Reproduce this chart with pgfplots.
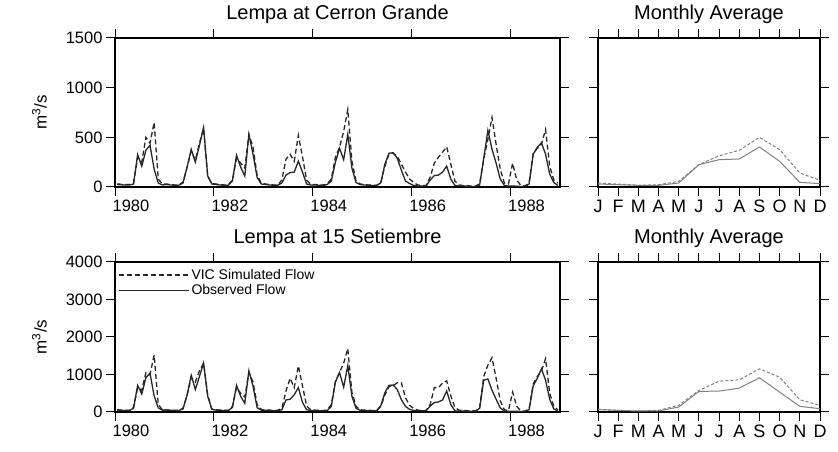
\documentclass[border=0pt]{standalone}
\usepackage{fontspec}
\setmainfont{Liberation Sans}
\usepackage{pgfplots}
\usepackage{pgfplotstable}
\pgfplotsset{compat=1.18}

% Monthly flows (m^3/s), 1980-1988: observed and VIC simulated
\pgfplotstableread{
yr mo obs vic
1980 1 25 30
1980 2 22 28
1980 3 20 25
1980 4 20 25
1980 5 30 40
1980 6 325 300
1980 7 210 250
1980 8 370 500
1980 9 420 440
1980 10 180 650
1980 11 40 80
1980 12 20 30
1981 1 25 30
1981 2 20 25
1981 3 18 20
1981 4 18 20
1981 5 40 50
1981 6 200 200
1981 7 380 360
1981 8 250 270
1981 9 420 440
1981 10 600 590
1981 11 110 110
1981 12 30 35
1982 1 25 30
1982 2 20 25
1982 3 18 20
1982 4 18 22
1982 5 60 70
1982 6 320 290
1982 7 200 240
1982 8 110 190
1982 9 530 530
1982 10 330 400
1982 11 95 120
1982 12 30 40
1983 1 25 30
1983 2 20 25
1983 3 18 20
1983 4 18 20
1983 5 40 70
1983 6 120 280
1983 7 145 330
1983 8 150 260
1983 9 260 520
1983 10 150 305
1983 11 30 70
1983 12 20 25
1984 1 20 25
1984 2 18 22
1984 3 15 20
1984 4 25 30
1984 5 60 80
1984 6 250 300
1984 7 390 400
1984 8 275 560
1984 9 530 780
1984 10 190 260
1984 11 45 60
1984 12 25 30
1985 1 20 25
1985 2 18 20
1985 3 15 18
1985 4 15 18
1985 5 40 40
1985 6 230 210
1985 7 340 330
1985 8 345 340
1985 9 290 310
1985 10 170 230
1985 11 60 150
1985 12 35 80
1986 1 15 45
1986 2 10 20
1986 3 10 15
1986 4 10 15
1986 5 70 100
1986 6 115 240
1986 7 120 300
1986 8 150 350
1986 9 210 405
1986 10 80 230
1986 11 15 60
1986 12 10 20
1987 1 10 15
1987 2 8 12
1987 3 5 10
1987 4 5 10
1987 5 20 30
1987 6 290 280
1987 7 570 480
1987 8 380 700
1987 9 240 430
1987 10 80 180
1987 11 15 40
1987 12 10 30
1988 1 10 240
1988 2 8 70
1988 3 5 15
1988 4 5 10
1988 5 30 40
1988 6 330 340
1988 7 400 390
1988 8 445 430
1988 9 330 580
1988 10 130 210
1988 11 45 70
1988 12 15 40
}\cerron

\pgfplotstableread{
yr mo obs vic
1980 1 50 60
1980 2 45 50
1980 3 40 45
1980 4 40 45
1980 5 100 120
1980 6 710 650
1980 7 480 580
1980 8 920 1050
1980 9 1030 1000
1980 10 430 1520
1980 11 110 200
1980 12 50 60
1981 1 50 55
1981 2 45 50
1981 3 40 45
1981 4 40 45
1981 5 80 100
1981 6 450 450
1981 7 980 920
1981 8 600 800
1981 9 950 1100
1981 10 1310 1300
1981 11 420 450
1981 12 70 80
1982 1 50 60
1982 2 45 50
1982 3 40 45
1982 4 40 45
1982 5 120 150
1982 6 710 650
1982 7 420 500
1982 8 230 400
1982 9 1100 1050
1982 10 690 800
1982 11 115 200
1982 12 50 70
1983 1 45 55
1983 2 40 50
1983 3 35 45
1983 4 35 45
1983 5 60 100
1983 6 320 560
1983 7 340 900
1983 8 460 650
1983 9 650 1230
1983 10 260 700
1983 11 60 160
1983 12 40 60
1984 1 40 50
1984 2 35 45
1984 3 30 40
1984 4 40 50
1984 5 150 200
1984 6 800 820
1984 7 1050 1060
1984 8 660 1300
1984 9 1240 1690
1984 10 420 520
1984 11 100 150
1984 12 45 60
1985 1 40 50
1985 2 35 45
1985 3 30 40
1985 4 30 40
1985 5 160 150
1985 6 515 450
1985 7 710 680
1985 8 720 700
1985 9 600 780
1985 10 330 780
1985 11 150 380
1985 12 70 180
1986 1 40 90
1986 2 35 50
1986 3 30 40
1986 4 30 40
1986 5 160 200
1986 6 250 650
1986 7 270 650
1986 8 320 770
1986 9 560 830
1986 10 200 430
1986 11 30 120
1986 12 25 50
1987 1 25 40
1987 2 20 35
1987 3 20 30
1987 4 20 30
1987 5 100 120
1987 6 850 950
1987 7 880 1250
1987 8 580 1450
1987 9 340 900
1987 10 110 300
1987 11 25 60
1987 12 20 40
1988 1 20 530
1988 2 18 150
1988 3 15 30
1988 4 15 25
1988 5 60 80
1988 6 700 750
1988 7 900 950
1988 8 1150 1100
1988 9 850 1420
1988 10 340 500
1988 11 80 150
1988 12 30 60
}\setiembre

\pgfplotsset{
  ncl/.style={
    scale only axis,
    enlargelimits=false,
    ymin=0,
    axis line style={line width=1.6pt},
    tick align=outside,
    major tick length=9pt,
    minor tick length=5pt,
    every tick/.style={black, line width=1pt},
    tick label style={font=\fontsize{16.5}{18}\selectfont},
    /pgf/number format/assume math mode=true,
    title style={font=\fontsize{20}{22}\selectfont, anchor=base, yshift=12pt},
    % the label is turned upright, so its own y direction points left
    ylabel style={font=\fontsize{17}{19}\selectfont, yshift=12pt},
  },
  series/.style={
    ncl, width=445pt, xmin=1980, xmax=1989,
    xtick={1980,1982,...,1988}, minor x tick num=3,
    xticklabel style={xshift=16pt},
    /pgf/number format/1000 sep={},
    ylabel={m\textsuperscript{3}/s},
  },
  months/.style={
    ncl, width=222pt, xmin=1, xmax=12, xtick={1,...,12},
    xticklabels={J,F,M,A,M,J,J,A,S,O,N,D},
    xticklabel style={font=\fontsize{18}{20}\selectfont, text height=13pt, text depth=0pt},
    yticklabels={},
    title={Monthly Average},
  },
  obsline/.style={black!85, line width=1.3pt},
  vicline/.style={black!85, line width=1.3pt, dash pattern=on 5pt off 3pt},
  obsavg/.style={black!50, line width=1pt},
  vicavg/.style={black!50, line width=1pt, dash pattern=on 3pt off 2pt},
}

\begin{document}
\begin{tikzpicture}
\path[use as bounding box] (0,0) rectangle (838pt,452pt);

% Lempa at Cerron Grande
\begin{axis}[series, at={(115pt,265pt)}, anchor=south west, height=149pt,
  ymax=1500, ytick={0,500,1000,1500}, title={Lempa at Cerron Grande}]
  \addplot[vicline] table[x expr=\thisrow{yr}+(\thisrow{mo}-0.5)/12, y=vic]{\cerron};
  \addplot[obsline] table[x expr=\thisrow{yr}+(\thisrow{mo}-0.5)/12, y=obs]{\cerron};
\end{axis}

\begin{axis}[months, at={(598pt,265pt)}, anchor=south west, height=149pt,
  ymax=1500, ytick={0,500,1000,1500}]
  \addplot[vicavg] coordinates {(1,40) (2,30) (3,17) (4,23) (5,57) (6,225) (7,315) (8,369) (9,500) (10,376) (11,141) (12,67)};
  \addplot[obsavg] coordinates {(1,30) (2,23) (3,17) (4,17) (5,40) (6,225) (7,275) (8,282) (9,403) (10,258) (11,47) (12,34)};
\end{axis}

% Lempa at 15 Setiembre
\begin{axis}[series, at={(115pt,40pt)}, anchor=south west, height=150pt,
  ymax=4000, ytick={0,1000,...,4000}, title={Lempa at 15 Setiembre},
  legend style={draw=none, fill=none, at={(0,1)}, anchor=north west,
    font=\fontsize{14}{15}\selectfont, inner sep=1pt, row sep=0pt,
    xshift=2pt, yshift=-4pt},
  legend cell align=left,
  legend image code/.code={\draw[#1] (0pt,0pt) -- (70pt,0pt);}]
  \addplot[vicline] table[x expr=\thisrow{yr}+(\thisrow{mo}-0.5)/12, y=vic]{\setiembre};
  \addlegendentry{VIC Simulated Flow}
  \addplot[obsline] table[x expr=\thisrow{yr}+(\thisrow{mo}-0.5)/12, y=obs]{\setiembre};
  \addlegendentry{Observed Flow}
\end{axis}

\begin{axis}[months, at={(598pt,40pt)}, anchor=south west, height=150pt,
  ymax=4000, ytick={0,1000,...,4000}]
  \addplot[vicavg] coordinates {(1,71) (2,44) (3,27) (4,44) (5,177) (6,575) (7,823) (8,858) (9,1150) (10,929) (11,327) (12,177)};
  \addplot[obsavg] coordinates {(1,62) (2,44) (3,27) (4,27) (5,133) (6,549) (7,558) (8,637) (9,912) (10,531) (11,150) (12,88)};
\end{axis}
\end{tikzpicture}
\end{document}
